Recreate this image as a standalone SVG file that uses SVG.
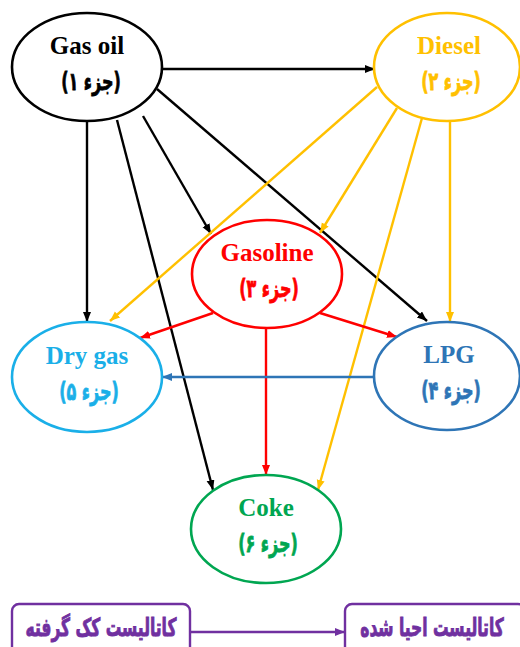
<svg xmlns="http://www.w3.org/2000/svg" width="520" height="647" viewBox="0 0 520 647">
<style>
.node{fill:#fff;stroke-width:2.6}
.en{font-family:"Liberation Serif","Times New Roman",serif;font-weight:bold;font-size:25px;text-anchor:middle}
.fa{font-family:"DejaVu Sans","Noto Sans",sans-serif;font-weight:bold;font-size:25px;text-anchor:middle;stroke-width:0.8}
.c{fill:none;stroke-width:2.4}
.box{fill:#fff;stroke:#7030A0;stroke-width:2.4}
.bt{font-family:"DejaVu Sans","Noto Sans",sans-serif;font-weight:bold;font-size:25px;text-anchor:middle;fill:#7030A0;stroke:#7030A0;stroke-width:0.9}
</style>
<defs>
<marker id="aK" markerUnits="userSpaceOnUse" markerWidth="11" markerHeight="9" refX="10" refY="4" orient="auto"><path d="M0,0 L10,4 L0,8 z" fill="#000"/></marker>
<marker id="aY" markerUnits="userSpaceOnUse" markerWidth="11" markerHeight="9" refX="10" refY="4" orient="auto"><path d="M0,0 L10,4 L0,8 z" fill="#FFC000"/></marker>
<marker id="aR" markerUnits="userSpaceOnUse" markerWidth="11" markerHeight="9" refX="10" refY="4" orient="auto"><path d="M0,0 L10,4 L0,8 z" fill="#FF0000"/></marker>
<marker id="aB" markerUnits="userSpaceOnUse" markerWidth="11" markerHeight="9" refX="10" refY="4" orient="auto"><path d="M0,0 L10,4 L0,8 z" fill="#2E75B6"/></marker>
<marker id="aP" markerUnits="userSpaceOnUse" markerWidth="11" markerHeight="9" refX="10" refY="4" orient="auto"><path d="M0,0 L10,4 L0,8 z" fill="#7030A0"/></marker>
</defs>
<rect width="520" height="647" fill="#fff"/>
<g id="connectors">
<line class="c" stroke="#000" x1="162" y1="69" x2="375" y2="69" marker-end="url(#aK)"/>
<line class="c" stroke="#000" x1="87" y1="121" x2="87" y2="322" marker-end="url(#aK)"/>
<line class="c" stroke="#000" x1="117" y1="120" x2="213" y2="490" marker-end="url(#aK)"/>
<line class="c" stroke="#000" x1="143" y1="116" x2="211" y2="234" marker-end="url(#aK)"/>
<line class="c" stroke="#000" x1="157" y1="89" x2="427" y2="321" marker-end="url(#aK)"/>
<line class="c" stroke="#FFC000" x1="377" y1="87" x2="110" y2="321" marker-end="url(#aY)"/>
<line class="c" stroke="#FFC000" x1="397" y1="108" x2="320" y2="233" marker-end="url(#aY)"/>
<line class="c" stroke="#FFC000" x1="422" y1="118" x2="318" y2="490" marker-end="url(#aY)"/>
<line class="c" stroke="#FFC000" x1="450" y1="122" x2="450" y2="322" marker-end="url(#aY)"/>
<line class="c" stroke="#FF0000" x1="213" y1="313" x2="140" y2="338" marker-end="url(#aR)"/>
<line class="c" stroke="#FF0000" x1="320" y1="313" x2="397" y2="337" marker-end="url(#aR)"/>
<line class="c" stroke="#FF0000" x1="266" y1="328" x2="266" y2="475" marker-end="url(#aR)"/>
<line class="c" stroke="#2E75B6" x1="375" y1="377" x2="162" y2="377" marker-end="url(#aB)"/>
<line class="c" stroke="#7030A0" x1="190" y1="632" x2="345" y2="632" marker-end="url(#aP)"/>
</g>
<g id="gasoil">
<ellipse class="node" stroke="#000" cx="87" cy="67" rx="75" ry="54"/>
<text class="en" x="87" y="54" fill="#000">Gas oil</text>
<text class="fa" transform="translate(91,90) scale(0.64,1)" fill="#000" stroke="#000">(جزء ۱)</text>
</g>
<g id="diesel">
<ellipse class="node" stroke="#FFC000" cx="447" cy="67" rx="73" ry="54"/>
<text class="en" x="449" y="54" fill="#FFC000">Diesel</text>
<text class="fa" transform="translate(451,90) scale(0.64,1)" fill="#FFC000" stroke="#FFC000">(جزء ۲)</text>
</g>
<g id="gasoline">
<ellipse class="node" stroke="#FF0000" cx="267" cy="274" rx="75" ry="54"/>
<text class="en" x="267" y="261" fill="#FF0000">Gasoline</text>
<text class="fa" transform="translate(269,297) scale(0.64,1)" fill="#FF0000" stroke="#FF0000">(جزء ۳)</text>
</g>
<g id="drygas">
<ellipse class="node" stroke="#1AAFE8" cx="87" cy="377" rx="75" ry="55"/>
<text class="en" x="87" y="364" fill="#1AAFE8">Dry gas</text>
<text class="fa" transform="translate(89,400) scale(0.64,1)" fill="#1AAFE8" stroke="#1AAFE8">(جزء ۵)</text>
</g>
<g id="lpg">
<ellipse class="node" stroke="#2E75B6" cx="447" cy="376" rx="73" ry="54"/>
<text class="en" x="449" y="363" fill="#2E75B6">LPG</text>
<text class="fa" transform="translate(451,399) scale(0.64,1)" fill="#2E75B6" stroke="#2E75B6">(جزء ۴)</text>
</g>
<g id="coke">
<ellipse class="node" stroke="#00A651" cx="266" cy="529" rx="75" ry="54"/>
<text class="en" x="266" y="516" fill="#00A651">Coke</text>
<text class="fa" transform="translate(268,552) scale(0.64,1)" fill="#00A651" stroke="#00A651">(جزء ۶)</text>
</g>
<g id="coked">
<rect class="box" x="12" y="604" width="178" height="60" rx="7"/>
<text class="bt" transform="translate(101,636) scale(0.62,1)">کاتالیست کک گرفته</text>
</g>
<g id="regen">
<rect class="box" x="345" y="604" width="180" height="60" rx="7"/>
<text class="bt" transform="translate(432,636) scale(0.62,1)">کاتالیست احیا شده</text>
</g>
</svg>
